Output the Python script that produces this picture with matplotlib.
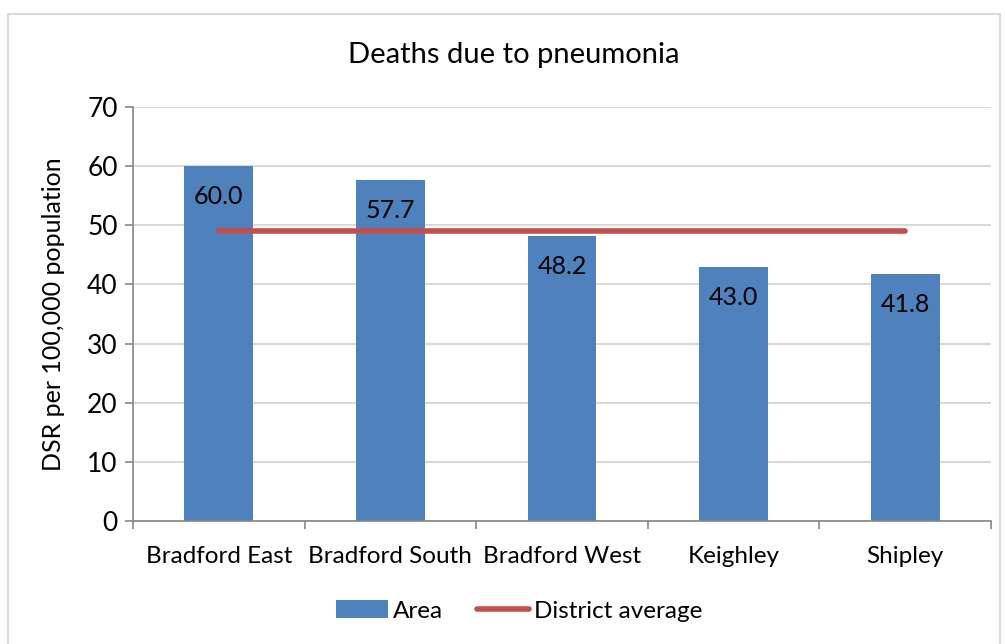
import matplotlib
matplotlib.use("Agg")
import matplotlib.pyplot as plt
from matplotlib.patches import Rectangle
from matplotlib.lines import Line2D
from matplotlib.patches import Patch

areas = ["Bradford East", "Bradford South", "Bradford West", "Keighley", "Shipley"]
dsr = [60.0, 57.7, 48.2, 43.0, 41.8]
district_average = 49.0

BAR_COLOR = "#4F81BD"
LINE_COLOR = "#C0504D"
AXIS_COLOR = "#868686"
GRID_COLOR = "#D9D9D9"

plt.rcParams["font.family"] = ["Lato", "DejaVu Sans"]

fig = plt.figure(figsize=(10.05, 6.44), dpi=100)
ax = fig.add_axes([133 / 1005, 1 - 521 / 644, (991 - 133) / 1005, (521 - 107) / 644])

x = list(range(len(areas)))
ax.bar(x, dsr, width=0.4, color=BAR_COLOR, zorder=2)
ax.plot(x, [district_average] * len(x), color=LINE_COLOR, linewidth=4, solid_capstyle="round", zorder=3)

for xi, val in zip(x, dsr):
    ax.annotate(f"{val:.1f}", (xi, val), xytext=(0, -22), textcoords="offset points",
                ha="center", va="center", fontsize=18, color="black", zorder=4)

ax.set_xlim(-0.5, len(areas) - 0.5)
ax.set_ylim(0, 70)
ax.set_yticks(range(0, 71, 10))
ax.set_xticks([i - 0.5 for i in range(len(areas) + 1)], minor=False)
ax.set_xticklabels([])
ax.set_xticks(x, minor=True)
ax.set_xticklabels(areas, minor=True, fontsize=17.5)
ax.tick_params(axis="x", which="minor", length=0, pad=18)
ax.tick_params(axis="x", which="major", length=6, color=AXIS_COLOR, width=1.2)
ax.tick_params(axis="y", length=6, color=AXIS_COLOR, width=1.2, labelsize=19, pad=5)
ax.yaxis.grid(True, color=GRID_COLOR, linewidth=1.5, zorder=0)
ax.set_axisbelow(True)
for side in ["top", "right"]:
    ax.spines[side].set_visible(False)
for side in ["left", "bottom"]:
    ax.spines[side].set_color(AXIS_COLOR)
    ax.spines[side].set_linewidth(1.2)

ax.set_ylabel("DSR per 100,000 population", fontsize=18, labelpad=16)
fig.text(514 / 1005, 1 - 55 / 644, "Deaths due to pneumonia", ha="center", va="center", fontsize=21)

handles = [Patch(facecolor=BAR_COLOR, label="Area"),
           Line2D([0], [0], color=LINE_COLOR, linewidth=4, solid_capstyle="round", label="District average")]
fig.legend(handles=handles, loc="center", bbox_to_anchor=(519 / 1005, 1 - 611 / 644), ncol=2,
           frameon=False, fontsize=17.5, handlelength=2.15, handletextpad=0.2, columnspacing=1.4)

fig.add_artist(Rectangle((8 / 1005, -0.02), (1000 - 8) / 1005, 1.02 - 14 / 644, transform=fig.transFigure,
                         fill=False, edgecolor=GRID_COLOR, linewidth=1.5))

fig.savefig("out.png", dpi=100)
